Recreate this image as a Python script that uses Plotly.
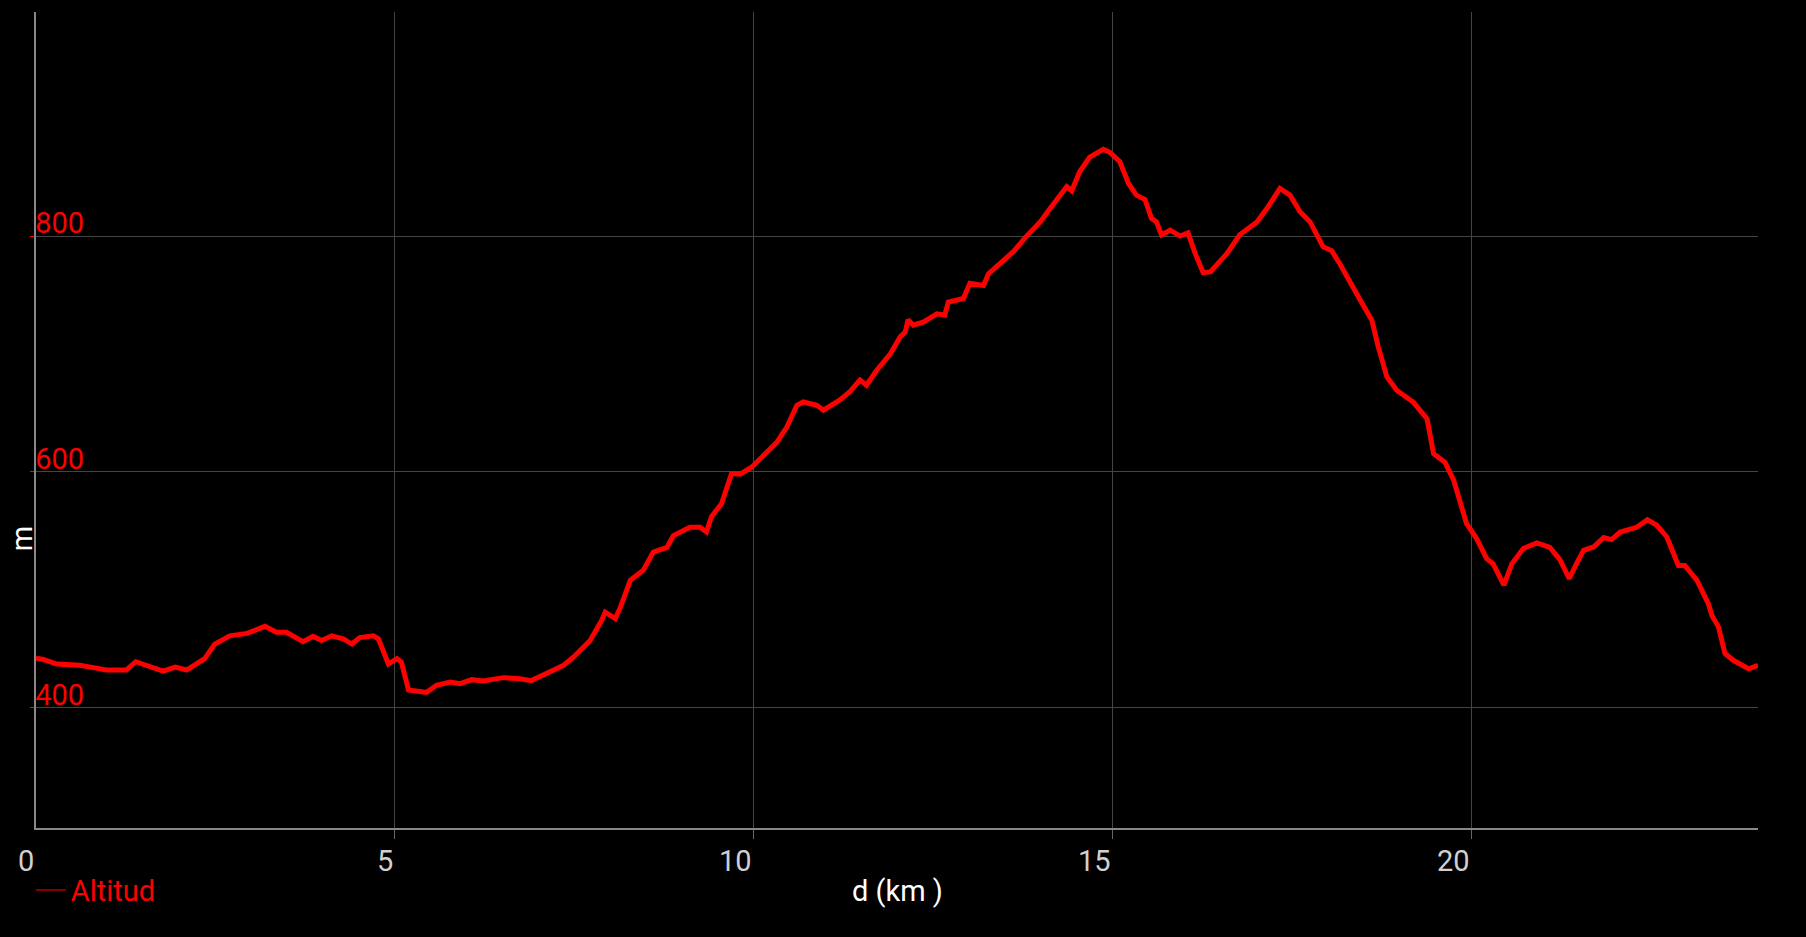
import plotly.graph_objects as go

# distance (km) and altitude (m)
dist_km = [0.00, 0.10, 0.29, 0.61, 0.80, 0.98, 1.26, 1.39, 1.77, 1.94, 2.10, 2.35, 2.49, 2.70, 2.94,
           3.19, 3.35, 3.49, 3.72, 3.86, 3.98, 4.12, 4.28, 4.40, 4.51, 4.70, 4.77, 4.91, 5.03, 5.09,
           5.19, 5.44, 5.58, 5.77, 5.91, 6.07, 6.23, 6.51, 6.74, 6.90, 7.11, 7.35, 7.49, 7.72, 7.88,
           7.93, 8.07, 8.14, 8.28, 8.46, 8.60, 8.79, 8.88, 9.11, 9.25, 9.34, 9.41, 9.55, 9.69, 9.81,
           9.97, 10.13, 10.32, 10.46, 10.60, 10.69, 10.88, 10.97, 11.20, 11.34, 11.48, 11.57, 11.71,
           11.90, 12.04, 12.11, 12.15, 12.22, 12.36, 12.55, 12.66, 12.71, 12.92, 13.01, 13.20, 13.27,
           13.43, 13.62, 13.80, 13.99, 14.13, 14.31, 14.36, 14.43, 14.54, 14.68, 14.87, 14.96, 15.10,
           15.22, 15.33, 15.45, 15.54, 15.61, 15.68, 15.80, 15.94, 16.05, 16.15, 16.26, 16.36, 16.59,
           16.77, 17.01, 17.15, 17.33, 17.47, 17.61, 17.75, 17.93, 18.05, 18.16, 18.26, 18.45, 18.61,
           18.70, 18.82, 18.96, 19.19, 19.38, 19.47, 19.63, 19.75, 19.93, 20.07, 20.21, 20.30, 20.45,
           20.56, 20.72, 20.91, 21.09, 21.23, 21.36, 21.46, 21.56, 21.70, 21.84, 21.95, 22.07, 22.30,
           22.45, 22.58, 22.72, 22.88, 22.97, 23.14, 23.30, 23.35, 23.44, 23.53, 23.65, 23.86, 23.99]
altitude_m = [442, 441, 437, 436, 434, 432, 432, 439, 431, 434.5, 432, 441.6, 454, 461, 463,
              469, 464, 464, 456, 460.5, 457, 461, 458.5, 454, 459.5, 461, 458.5, 437, 441.6, 438.7,
              415, 413, 419, 421.7, 420.4, 423.8, 422.6, 425.5, 424.6, 423, 429, 436, 443, 457, 474,
              481, 475.5, 485, 508, 516.5, 532, 536, 546, 553, 553, 549, 562, 573, 598.6, 598,
              604, 614, 625, 638, 656.5, 659.3, 656.5, 652.3, 661, 668, 678, 673.5, 686,
              700, 714.5, 718.7, 729, 724.4, 727, 734, 733, 744, 747, 760, 758, 768,
              777, 787, 800, 812, 823.5, 837.5, 842, 838.4, 854.5, 867, 873.5, 871, 863,
              844.6, 834.7, 831, 815, 812, 801, 805, 800, 802.7, 785, 769, 769.6, 785,
              801, 812, 823.5, 840.4, 834.7, 820.6, 812, 791, 787.5, 777, 765.4, 745.6, 728.6,
              706, 680.5, 669, 659, 645, 615.5, 608, 593, 556, 543.4, 526.4, 522, 504,
              522, 535, 539.7, 536, 525.5, 509.5, 522, 533.5, 536.3, 544.3, 542.6, 549, 553,
              559.5, 554.7, 544.8, 520.7, 520.7, 508, 488, 478, 468.4, 446, 440, 433, 436]

x_ticks = [0, 5, 10, 15, 20]
x_tick_labels = ["0", "5", "10", "15", "20"]
y_ticks = [400, 600, 800]
y_tick_labels = ["400", "600", "800"]

FONT = "Roboto"
RED = "#ff0000"

fig = go.Figure()
fig.add_trace(go.Scatter(x=dist_km, y=altitude_m, mode="lines", name="Altitud",
                         line=dict(color=RED, width=5), showlegend=False))
# legend entry (thin line sample like the reference)
fig.add_trace(go.Scatter(x=[None], y=[None], mode="lines", name="Altitud",
                         line=dict(color="#b00000", width=1.5), showlegend=True))

annotations = []
for v, t in zip(x_ticks, x_tick_labels):
    annotations.append(dict(x=v, y=0, xref="x", yref="paper", text=t, showarrow=False,
                            xanchor="right", yanchor="top", yshift=-14,
                            font=dict(family=FONT, size=29, color="#d0d0d0")))
annotations.append(dict(x=0.5, y=-0.0776, xref="paper", yref="paper", text="d (km )",
                        showarrow=False, xanchor="center", yanchor="middle",
                        font=dict(family=FONT, size=29, color="#ffffff")))
annotations.append(dict(x=-0.0081, y=0.354, xref="paper", yref="paper", text="m",
                        showarrow=False, xanchor="center", yanchor="middle", textangle=-90,
                        font=dict(family=FONT, size=29, color="#ffffff")))

fig.update_layout(
    width=1806, height=937,
    paper_bgcolor="#000000", plot_bgcolor="#000000",
    margin=dict(l=36, r=48, t=12, b=109, pad=0),
    font=dict(family=FONT, size=29, color="#ffffff"),
    showlegend=True,
    legend=dict(x=-0.003, y=-0.045, xanchor="left", yanchor="top",
                bgcolor="rgba(0,0,0,0)", font=dict(family=FONT, size=29, color=RED),
                itemwidth=30),
    annotations=annotations,
)
fig.update_xaxes(range=[0, 23.99], tickvals=x_ticks, showticklabels=False,
                 showgrid=True, gridcolor="#444444", gridwidth=1,
                 showline=True, linecolor="#888888", linewidth=2,
                 ticks="outside", ticklen=9, tickcolor="#666666", tickwidth=1,
                 zeroline=False)
fig.update_yaxes(range=[298, 990], tickvals=y_ticks, ticktext=y_tick_labels,
                 showgrid=True, gridcolor="#444444", gridwidth=1,
                 showline=True, linecolor="#888888", linewidth=2,
                 ticks="outside", ticklen=4, tickcolor=RED, tickwidth=1,
                 ticklabelposition="inside", ticklabelshift=-13, ticklabelstandoff=2,
                 tickfont=dict(family=FONT, size=29, color=RED),
                 zeroline=False)

fig.write_html("out.html", config={"displayModeBar": False},
               post_script="document.body.style.margin='0';document.body.style.background='#000';")
